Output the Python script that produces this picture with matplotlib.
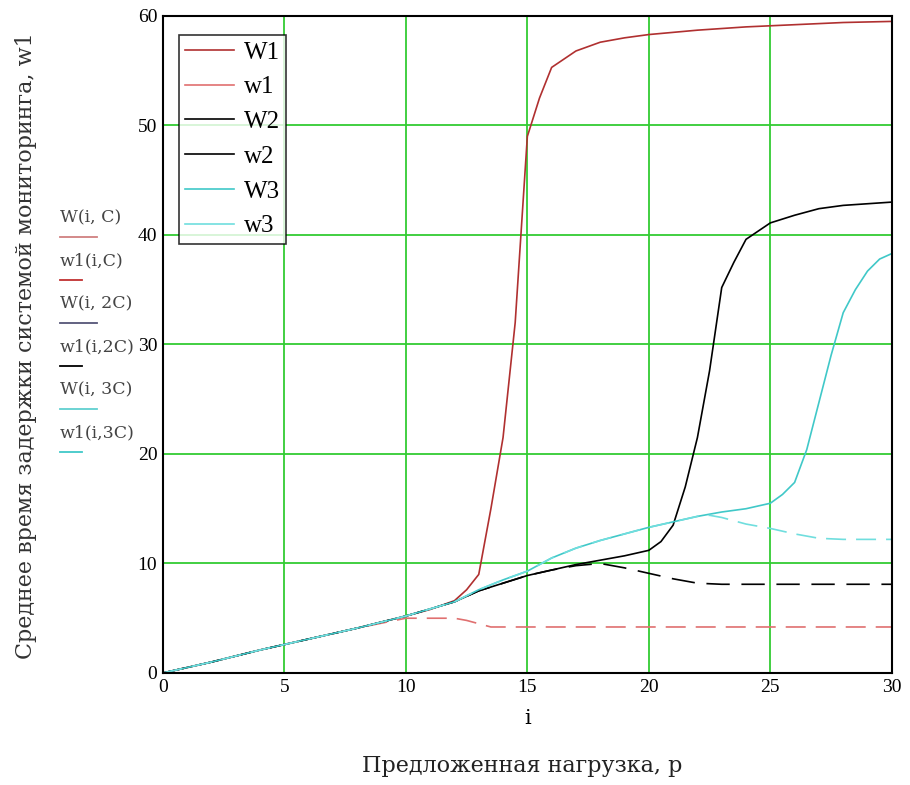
import matplotlib.pyplot as plt
from matplotlib.lines import Line2D

plt.rcParams['font.family'] = ['Liberation Serif', 'DejaVu Serif']

# W1 / w1 (C)
x_W1 = [0, 2, 4, 6, 8, 10, 11, 12, 12.5, 13, 13.5, 14, 14.5, 15, 15.5, 16, 17, 18, 19, 20, 22, 24, 26, 28, 30]
W1 = [0, 1.0, 2.1, 3.1, 4.1, 5.2, 5.8, 6.6, 7.6, 9.0, 15.0, 21.5, 32.0, 49.0, 52.5, 55.3, 56.8, 57.6, 58.0, 58.3, 58.7, 59.0, 59.2, 59.4, 59.5]
x_w1 = [0, 2, 4, 6, 8, 10, 11, 12, 12.5, 13, 13.5, 14, 30]
w1 = [0, 1.0, 2.1, 3.1, 4.1, 5.0, 5.0, 5.0, 4.8, 4.5, 4.2, 4.2, 4.2]

# W2 / w2 (2C)
x_W2 = [0, 2, 4, 6, 8, 10, 12, 13, 14, 15, 16, 17, 18, 19, 20, 20.5, 21, 21.5, 22, 22.5, 23, 23.5, 24, 25, 26, 27, 28, 30]
W2 = [0, 1.0, 2.1, 3.1, 4.1, 5.2, 6.5, 7.5, 8.2, 8.9, 9.4, 9.9, 10.3, 10.7, 11.2, 12.0, 13.5, 17.0, 21.5, 27.6, 35.2, 37.5, 39.6, 41.1, 41.8, 42.4, 42.7, 43.0]
x_w2 = [0, 2, 4, 6, 8, 10, 12, 13, 14, 15, 16, 17, 18, 19, 20, 21, 22, 23, 30]
w2 = [0, 1.0, 2.1, 3.1, 4.1, 5.2, 6.5, 7.5, 8.2, 8.9, 9.4, 9.8, 10.0, 9.6, 9.1, 8.6, 8.2, 8.1, 8.1]

# W3 / w3 (3C)
x_W3 = [0, 2, 4, 6, 8, 10, 12, 13, 14, 15, 16, 17, 18, 19, 20, 21, 22, 23, 24, 25, 25.5, 26, 26.5, 27, 27.5, 28, 28.5, 29, 29.5, 30]
W3 = [0, 1.0, 2.1, 3.1, 4.1, 5.2, 6.5, 7.6, 8.5, 9.3, 10.5, 11.4, 12.1, 12.7, 13.3, 13.8, 14.3, 14.7, 15.0, 15.5, 16.3, 17.4, 20.4, 24.7, 29.0, 32.9, 35.0, 36.7, 37.8, 38.3]
x_w3 = [0, 2, 4, 6, 8, 10, 12, 13, 14, 15, 16, 17, 18, 19, 20, 21, 22, 22.5, 23, 24, 25, 26, 27, 28, 30]
w3 = [0, 1.0, 2.1, 3.1, 4.1, 5.2, 6.5, 7.6, 8.5, 9.3, 10.5, 11.4, 12.1, 12.7, 13.3, 13.8, 14.3, 14.4, 14.2, 13.6, 13.2, 12.7, 12.3, 12.2, 12.2]

labels = ['W1', 'w1', 'W2', 'w2', 'W3', 'w3']
side_labels = ['W(i, C)', 'w1(i,C)', 'W(i, 2C)', 'w1(i,2C)', 'W(i, 3C)', 'w1(i,3C)']

fig = plt.figure(figsize=(9.1, 7.85), dpi=100)
ax = fig.add_axes([0.179, 0.1427, 0.801, 0.837])

ax.plot(x_W1, W1, color='#b03030', lw=1.2)
ax.plot(x_w1, w1, color='#e07070', lw=1.2, dashes=(12, 6))
ax.plot(x_W2, W2, color='black', lw=1.2)
ax.plot(x_w2, w2, color='black', lw=1.2, dashes=(14, 7))
ax.plot(x_W3, W3, color='#40c8c8', lw=1.2)
ax.plot(x_w3, w3, color='#70dede', lw=1.2, dashes=(12, 6))

ax.set_xlim(0, 30)
ax.set_ylim(0, 60)
ax.set_xticks(range(0, 31, 5))
ax.set_yticks(range(0, 61, 10))
ax.grid(True, color='#33cc33', lw=1.3)
ax.set_axisbelow(True)
ax.tick_params(length=0, labelsize=14, pad=4)
for s in ax.spines.values():
    s.set_linewidth(1.5)

handles = [Line2D([], [], color=c, lw=1.2) for c in
           ['#b03030', '#e07070', 'black', 'black', '#40c8c8', '#70dede']]
leg = ax.legend(handles, labels, loc='upper left', bbox_to_anchor=(0.022, 0.971),
                borderaxespad=0, fontsize=18, frameon=True, fancybox=False,
                handlelength=1.95, handletextpad=0.4, labelspacing=0.49,
                borderpad=0.25)
leg.get_frame().set_edgecolor('black')
leg.get_frame().set_linewidth(1.2)

ax.set_xlabel('i', fontsize=15, labelpad=10, family='DejaVu Serif')
fig.text(0.574, 0.016, 'Предложенная нагрузка, p', fontsize=16, ha='center',
         family='DejaVu Serif', color='#222222')
fig.text(0.029, 0.56, 'Среднее время задержки системой мониторинга, w1',
         fontsize=16, rotation=90, ha='center', va='center', color='#333333',
         family='DejaVu Serif')

# Mathcad trace labels on the left
side_colors = ['#d08080', '#c03030', '#555577', 'black', '#60d0d0', '#40c8c8']
side_len = [37, 22, 37, 22, 37, 22]
y0 = 218
for k, (t, c, ln) in enumerate(zip(side_labels, side_colors, side_len)):
    yt = y0 + k * 43
    fig.text(60 / 910, 1 - yt / 785, t, fontsize=12.5, va='center', color='#444444',
             family='DejaVu Serif')
    yl = 1 - (yt + 19) / 785
    fig.add_artist(Line2D([60 / 910, (60 + ln) / 910], [yl, yl], color=c, lw=1.3))

fig.savefig('out.png', dpi=100)
